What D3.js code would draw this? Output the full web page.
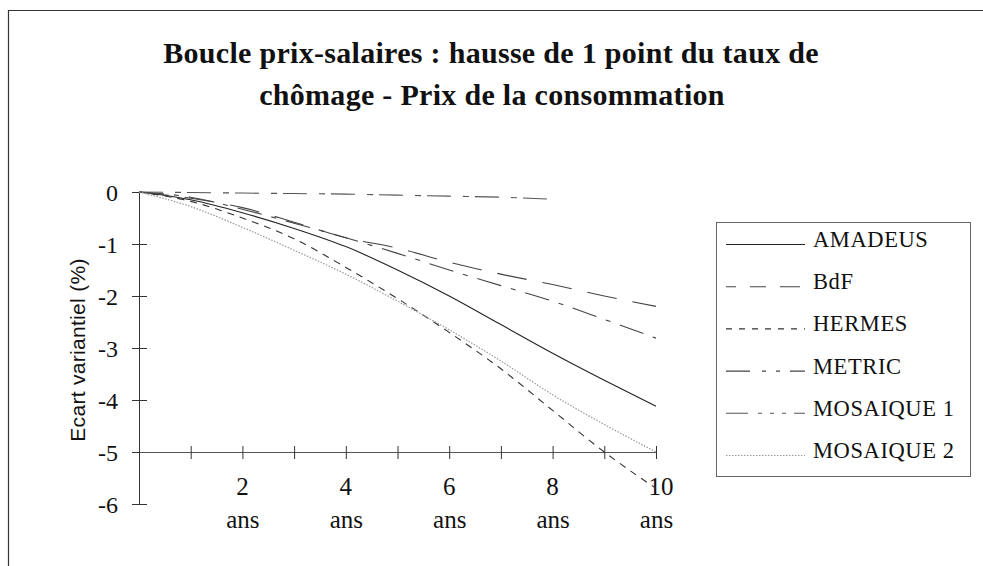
<!DOCTYPE html>
<html>
<head>
  <meta charset="utf-8">
  <title>Boucle prix-salaires</title>
  <script src="https://d3js.org/d3.v7.min.js"></script>
  <style>
    body { margin: 0; background: #fff; }
    text { font-family: "Liberation Serif", "Times New Roman", serif; fill: #111; }
    .ylabel { font-family: "Liberation Sans", Arial, sans-serif; }
  </style>
</head>
<body>
  <div id="chart"></div>
  <script>
    // years after the shock
    const years = [0, 1, 2, 3, 4, 5, 6, 7, 8, 9, 10];
    const yTicks = [0, -1, -2, -3, -4, -5, -6];
    const xLabelYears = [2, 4, 6, 8, 10];

    // écart variantiel (%)
    const amadeus   = [0, -0.15, -0.4, -0.7, -1.05, -1.5, -2.0, -2.55, -3.1, -3.62, -4.12];
    const bdf       = [0, -0.12, -0.3, -0.58, -0.88, -1.08, -1.35, -1.58, -1.78, -2.0, -2.2];
    const hermes    = [0, -0.18, -0.5, -0.9, -1.45, -2.05, -2.7, -3.4, -4.2, -5.0, -5.7];
    const metric    = [0, -0.1, -0.33, -0.6, -0.88, -1.18, -1.5, -1.8, -2.1, -2.45, -2.81];
    const mosaique1 = [0, -0.01, -0.02, -0.03, -0.04, -0.06, -0.08, -0.1, -0.14];
    const mosaique2 = [0, -0.28, -0.68, -1.12, -1.58, -2.1, -2.65, -3.25, -3.9, -4.47, -5.0];

    const series = [
      { name: "AMADEUS",    values: amadeus,   dash: null,          color: "#222" },
      { name: "BdF",        values: bdf,       dash: "30,16",       color: "#444" },
      { name: "HERMES",     values: hermes,    dash: "7,6",         color: "#333" },
      { name: "METRIC",     values: metric,    dash: "25,10,5,10",  color: "#444" },
      { name: "MOSAIQUE 1", values: mosaique1, dash: "24,12,6,6",   color: "#555" },
      { name: "MOSAIQUE 2", values: mosaique2, dash: "1.5,1.5",     color: "#999" }
    ];
    const legendDash = [null, "10,14,16,14,20", "6,7", "24,12,4,10,4,10,20", "22,10,4,8,4,8,4,8,20", "1.5,1.5"];

    const width = 983, height = 566;
    const svg = d3.select("#chart").append("svg")
      .attr("width", width).attr("height", height);

    // frame
    svg.append("path")
      .attr("d", "M8.5,566 V10.5 H983")
      .attr("fill", "none").attr("stroke", "#333").attr("stroke-width", 1.2);

    // title
    const title = svg.append("text")
      .attr("text-anchor", "middle")
      .style("font-weight", "bold").style("font-size", "30px").style("letter-spacing", "0.3px");
    title.append("tspan").attr("x", 491).attr("y", 63)
      .text("Boucle prix-salaires : hausse de 1 point du taux de");
    title.append("tspan").attr("x", 492).attr("y", 105)
      .text("chômage - Prix de la consommation");

    const x = d3.scaleLinear().domain([0, 10]).range([139, 656]);
    const y = d3.scaleLinear().domain([-6, 0]).range([504, 192]);

    // y axis
    const yAxis = svg.append("g")
      .attr("transform", `translate(${x(0)},0)`)
      .call(d3.axisLeft(y).tickValues(yTicks).tickSize(7).tickPadding(14).tickFormat(d3.format("d")));
    yAxis.select(".domain").attr("d", `M0.5,${y(0)}V${y(-6)}`).attr("stroke", "#333");
    yAxis.selectAll(".tick line").attr("x1", -7).attr("x2", 8).attr("stroke", "#333");
    yAxis.selectAll(".tick text")
      .style("font-size", "24px").style("font-family", "'Liberation Serif', serif")
      .attr("fill", "#111").attr("dy", "0.35em")
      .text(d => d === 0 ? "0" : "-" + Math.abs(d));

    // x axis at -5
    const xAxis = svg.append("g")
      .attr("transform", `translate(0,${y(-5)})`)
      .call(d3.axisBottom(x).tickValues(years).tickSize(6).tickFormat(""));
    xAxis.select(".domain").attr("d", `M${x(0)},0.5H${x(10)}`).attr("stroke", "#555");
    xAxis.selectAll(".tick line").attr("y1", -6).attr("y2", 7).attr("stroke", "#333");

    const xl = svg.append("g").selectAll("text").data(xLabelYears).join("text")
      .attr("text-anchor", "middle").style("font-size", "25px");
    xl.append("tspan").attr("x", d => x(d) + (d === 10 ? 5 : 0)).attr("y", 495).text(d => d);
    xl.append("tspan").attr("x", d => x(d) + 0.5).attr("y", 528).text("ans");

    // y label
    svg.append("text").attr("class", "ylabel")
      .attr("transform", "translate(85,350) rotate(-90)")
      .attr("text-anchor", "middle")
      .style("font-size", "21px").style("letter-spacing", "0.3px")
      .text("Ecart variantiel (%)");

    // lines
    const line = d3.line().x((d, i) => x(years[i])).y(d => y(d)).curve(d3.curveMonotoneX);
    svg.append("g").selectAll("path").data(series).join("path")
      .attr("d", d => line(d.values))
      .attr("fill", "none")
      .attr("stroke", d => d.color)
      .attr("stroke-width", d => d.name === "MOSAIQUE 2" ? 1.2 : 1.1)
      .attr("stroke-dasharray", d => d.dash);

    // legend
    const lg = svg.append("g");
    lg.append("rect").attr("x", 716.5).attr("y", 222.5).attr("width", 254).attr("height", 254)
      .attr("fill", "none").attr("stroke", "#666");
    const rows = lg.selectAll("g").data(series).join("g")
      .attr("transform", (d, i) => `translate(0,${247 + i * 42.2})`);
    rows.append("line").attr("x1", 726).attr("x2", 805).attr("y1", -2.5).attr("y2", -2.5)
      .attr("stroke", d => d.color).attr("stroke-width", 1.1)
      .attr("stroke-dasharray", (d, i) => legendDash[i]);
    rows.append("text").attr("x", 813).attr("y", 0)
      .style("font-size", "22.5px").style("letter-spacing", "0.6px")
      .text(d => d.name);
  </script>
</body>
</html>
